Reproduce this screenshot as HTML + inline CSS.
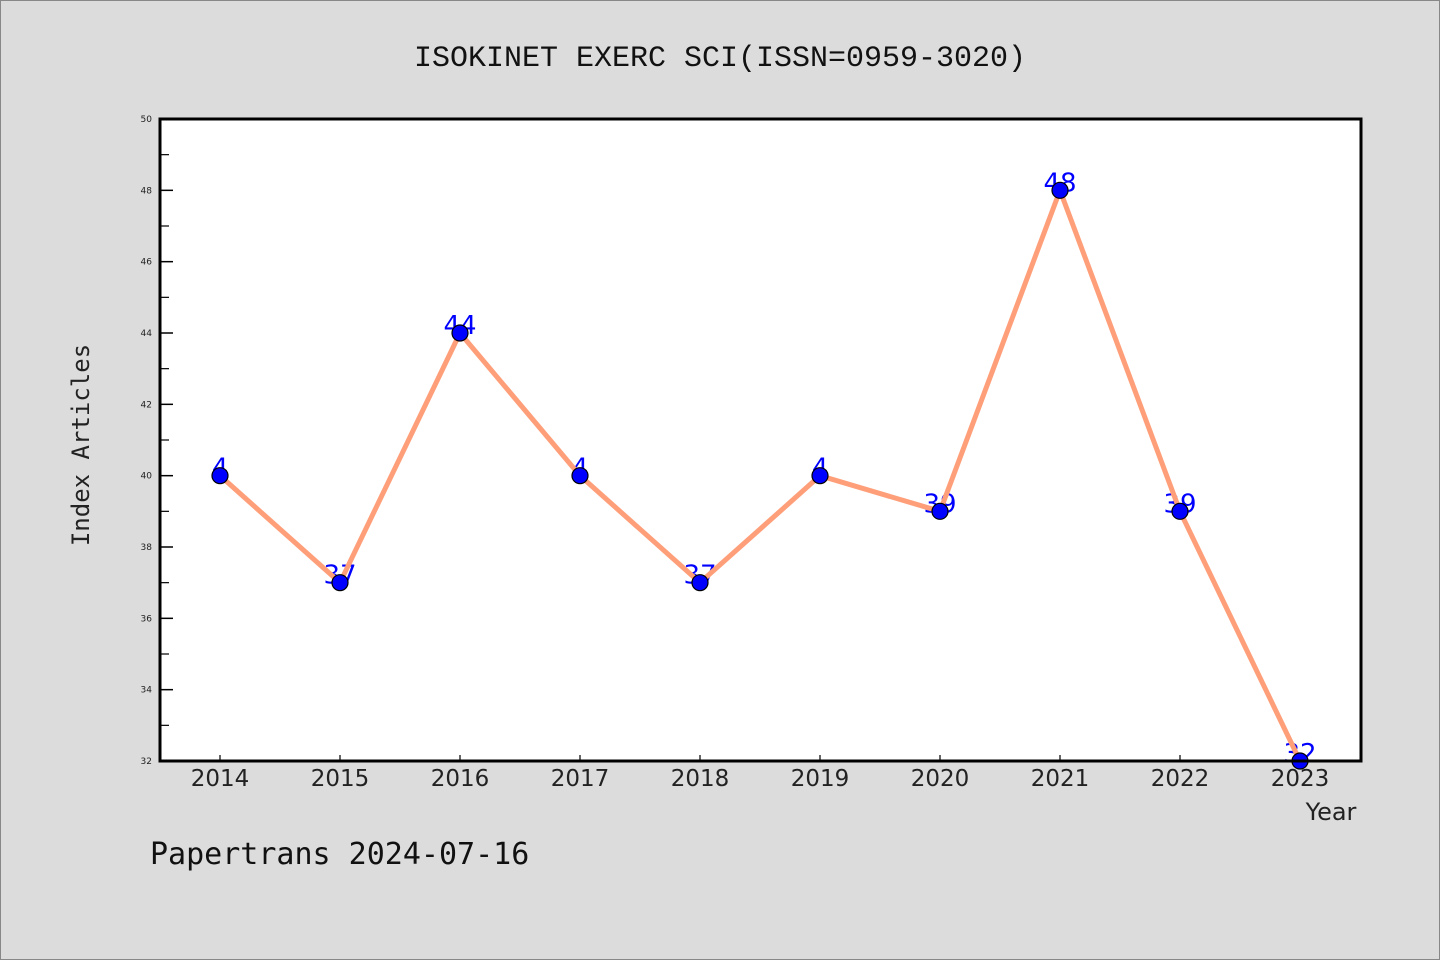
<!DOCTYPE html>
<html><head><meta charset="utf-8"><style>
html,body{margin:0;padding:0;background:#dcdcdc;}
svg{display:block;}
</style></head><body>
<svg id="chart" width="1440" height="960" xmlns="http://www.w3.org/2000/svg">
<rect x="0.5" y="0.5" width="1439" height="959" fill="#dcdcdc" stroke="#888"/>
<text x="720" y="66" text-anchor="middle" font-family="Liberation Mono, DejaVu Sans Mono, monospace" font-size="30" fill="#111">ISOKINET EXERC SCI(ISSN=0959-3020)</text>
<rect x="160" y="119" width="1201" height="642" fill="#fff"/>
<g id="axes"></g>
<g id="labels"></g>
<g id="series"></g>
<rect x="160" y="119" width="1201" height="642" fill="none" stroke="#000" stroke-width="3"/>
<text x="1331" y="820" text-anchor="middle" font-family="DejaVu Sans, Liberation Sans, sans-serif" font-size="24" fill="#222">Year</text>
<text transform="translate(89,445) rotate(-90)" text-anchor="middle" font-family="DejaVu Sans Mono, Liberation Mono, monospace" font-size="24" fill="#222">Index Articles</text>
<text x="150" y="864" font-family="DejaVu Sans Mono, Liberation Mono, monospace" font-size="30" fill="#111">Papertrans 2024-07-16</text>
</svg>
<script>
const years = ['2014','2015','2016','2017','2018','2019','2020','2021','2022','2023'];
const values = [40,37,44,40,37,40,39,48,39,32];
const pointLabels = ['4','37','44','4','37','4','39','48','39','32'];
const yTicks = [32,34,36,38,40,42,44,46,48,50];

const NS='http://www.w3.org/2000/svg';
const L=160,R=1361,T=119,B=761,ymin=32,ymax=50;
const xs=i=>220+i*120;
const ys=v=>B-(v-ymin)/(ymax-ymin)*(B-T);
function mk(tag,attrs,parent,txt){const e=document.createElementNS(NS,tag);for(const k in attrs)e.setAttribute(k,attrs[k]);if(txt!==undefined)e.textContent=txt;parent.appendChild(e);return e;}
const axes=document.getElementById('axes'),labels=document.getElementById('labels'),series=document.getElementById('series');
yTicks.forEach((t,i)=>{
  const y=ys(t);
  const tk=mk('line',{x1:L,x2:L+13,y1:y,y2:y,stroke:'#000','stroke-width':1.5},axes);
  
  
  const lb=mk('text',{x:152,y:y+3,'text-anchor':'end','font-family':'DejaVu Sans, Liberation Sans, sans-serif','font-size':9,fill:'#222'},axes,String(t));
  
  
  if(i<yTicks.length-1){
    const ym=ys(t+1);
    const mn=mk('line',{x1:L,x2:L+9,y1:ym,y2:ym,stroke:'#000','stroke-width':1.2},axes);
    
    
  }
});
years.forEach((yr,i)=>{
  const x=xs(i);
  const tk=mk('line',{x1:x,x2:x,y1:B,y2:B-6,stroke:'#000','stroke-width':1.2},axes);
  
  
  const lb=mk('text',{x:x,y:B+25,'text-anchor':'middle','font-family':'DejaVu Sans, Liberation Sans, sans-serif','font-size':23,fill:'#222'},axes,yr);
  
  
});
values.forEach((v,i)=>{
  const t=mk('text',{x:xs(i),y:ys(v)+1,'text-anchor':'middle','font-family':'DejaVu Sans, Liberation Sans, sans-serif','font-size':26,fill:'#0000ff'},labels,pointLabels[i]);
  
  
});
const pl=mk('polyline',{points:values.map((v,i)=>xs(i)+','+ys(v)).join(' '),fill:'none',stroke:'#ff9f7a','stroke-width':5,'stroke-linejoin':'round'},series);


values.forEach((v,i)=>{
  const c=mk('circle',{cx:xs(i),cy:ys(v),r:8,fill:'#0000ff',stroke:'#000','stroke-width':1.2},series);
  
  
});
</script>
</body></html>
